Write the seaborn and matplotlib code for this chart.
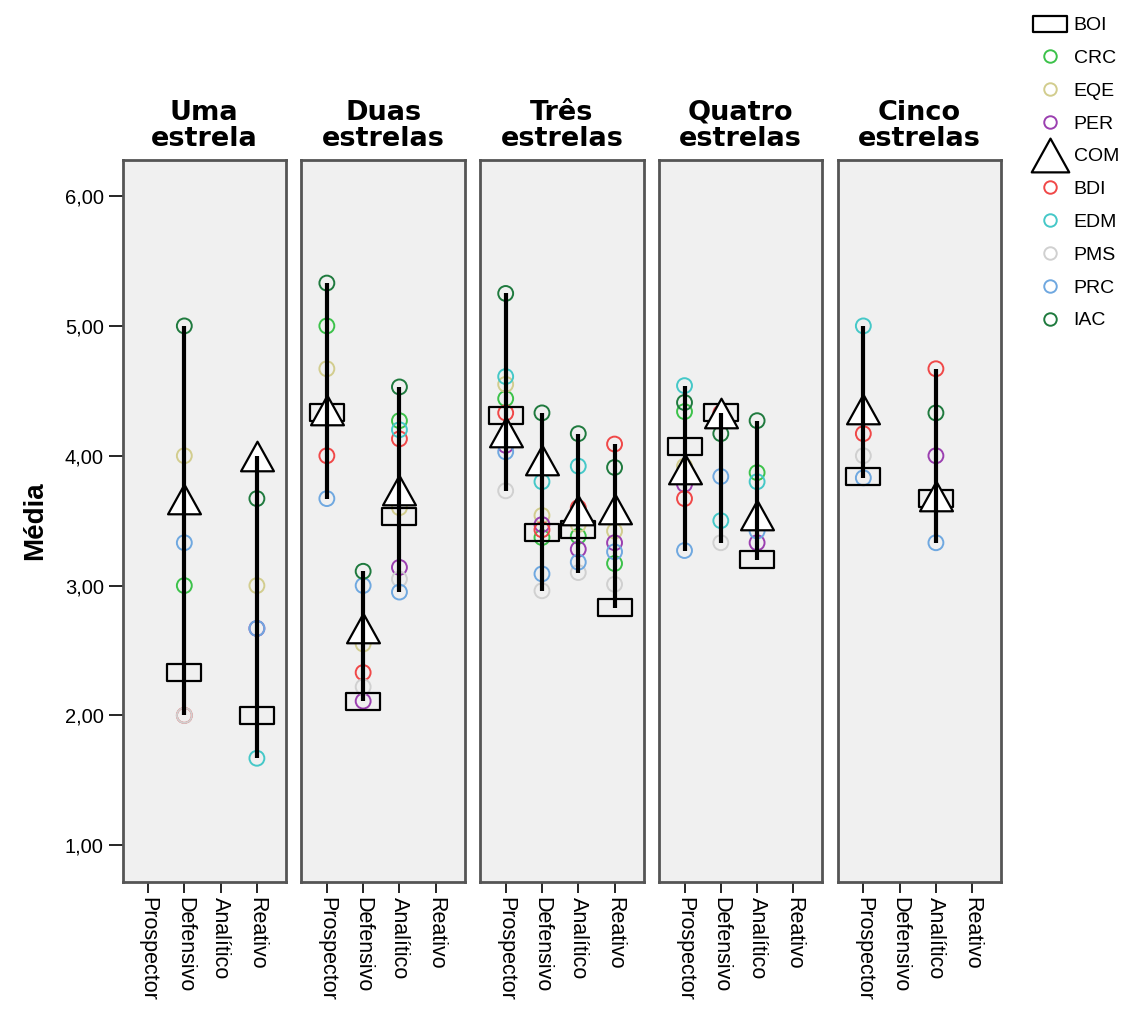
import numpy as np
import pandas as pd
import matplotlib
matplotlib.use("Agg")
import matplotlib.pyplot as plt
from matplotlib.path import Path
from matplotlib.markers import MarkerStyle
from matplotlib.lines import Line2D
import seaborn as sns

# panels and categories
panels = ["Uma\nestrela", "Duas\nestrelas", "Três\nestrelas", "Quatro\nestrelas", "Cinco\nestrelas"]
categories = ["Prospector", "Defensivo", "Analítico", "Reativo"]
y_ticks = [1, 2, 3, 4, 5, 6]
y_tick_labels = ["1,00", "2,00", "3,00", "4,00", "5,00", "6,00"]

n = np.nan
# values per series: 5 panels x 4 categories (Prospector, Defensivo, Analítico, Reativo)
boi = [n, 2.33, n, 2.00,   4.33, 2.11, 3.53, n,   4.31, 3.41, 3.43, 2.83,   4.07, 4.33, 3.20, n,   3.84, n, 3.67, n]
crc = [n, 3.00, n, n,      5.00, n, 4.27, n,      4.44, 3.37, 3.38, 3.17,   4.34, n, 3.87, n,      n, n, n, n]
eqe = [n, 4.00, n, 3.00,   4.67, 2.55, 3.60, n,   4.55, 3.54, 3.47, 3.42,   3.92, n, n, n,         n, n, n, n]
per = [n, n, n, 2.67,      n, 2.11, 3.14, n,      4.08, 3.47, 3.28, 3.33,   3.78, n, 3.33, n,      n, n, 4.00, n]
com = [n, 3.67, n, 4.00,   4.35, 2.67, 3.74, n,   4.18, 3.97, 3.58, 3.59,   3.90, 4.33, 3.54, n,   4.36, n, 3.69, n]
bdi = [n, 2.00, n, n,      4.00, 2.33, 4.13, n,   4.33, 3.43, 3.60, 4.09,   3.67, 4.33, n, n,      4.17, n, 4.67, n]
edm = [n, n, n, 1.67,      n, n, 4.20, n,         4.61, 3.80, 3.92, n,      4.54, 3.50, 3.80, n,   5.00, n, n, n]
pms = [n, 2.00, n, n,      n, 2.22, 3.05, n,      3.73, 2.96, 3.10, 3.01,   n, 3.33, n, n,         4.00, n, n, n]
prc = [n, 3.33, n, 2.67,   3.67, 3.00, 2.95, n,   4.03, 3.09, 3.18, 3.26,   3.27, 3.84, 3.42, n,   3.83, n, 3.33, n]
iac = [n, 5.00, n, 3.67,   5.33, 3.11, 4.53, n,   5.25, 4.33, 4.17, 3.91,   4.41, 4.17, 4.27, n,   4.33, n, 4.33, n]

series_names = ["BOI", "CRC", "EQE", "PER", "COM", "BDI", "EDM", "PMS", "PRC", "IAC"]
series_values = [boi, crc, eqe, per, com, bdi, edm, pms, prc, iac]
series_colors = ["black", "#3cc24a", "#d2cd8e", "#9b3fb0", "black",
                 "#f04848", "#45c8c8", "#d0d0d0", "#6fa8e0", "#1f7a3e"]

rows = []
for name, vals in zip(series_names, series_values):
    for i, v in enumerate(vals):
        rows.append({"serie": name, "panel": panels[i // 4], "cat": categories[i % 4],
                     "pos": i % 4, "valor": v})
df = pd.DataFrame(rows).dropna()

rect = MarkerStyle(Path([(-1, -0.5), (1, -0.5), (1, 0.5), (-1, 0.5), (-1, -0.5)],
                        [1, 2, 2, 2, 79]))
tri = MarkerStyle(Path([(0, 0.9), (-1, -0.9), (1, -0.9), (0, 0.9)], [1, 2, 2, 79]))

sns.set_style("white")
plt.rcParams["font.family"] = ["Liberation Sans", "DejaVu Sans"]
plt.rcParams["text.color"] = "black"
plt.rcParams["axes.labelcolor"] = "black"
plt.rcParams["xtick.color"] = "black"
plt.rcParams["ytick.color"] = "black"

fig, axes = plt.subplots(1, 5, figsize=(11.25, 10.11), dpi=100, sharey=True)
fig.subplots_adjust(left=0.109, right=0.890, bottom=0.128, top=0.842, wspace=0.095)

for ax, panel in zip(axes, panels):
    ax.set_facecolor("#f0f0f0")
    sub = df[df["panel"] == panel]
    for name, col in zip(series_names, series_colors):
        d = sub[sub["serie"] == name]
        if d.empty:
            continue
        if name == "BOI":
            sns.scatterplot(data=d, x="pos", y="valor", marker=rect, s=600, color="none",
                            facecolors="none", edgecolor="black", linewidth=1.6, ax=ax, zorder=3)
        elif name == "COM":
            sns.scatterplot(data=d, x="pos", y="valor", marker=tri, s=560, color="white",
                            edgecolor="black", linewidth=1.6, ax=ax, zorder=3)
        else:
            sns.scatterplot(data=d, x="pos", y="valor", marker="o", s=115, color=col,
                            facecolors="none", edgecolor=col, linewidth=1.4, ax=ax, zorder=2)
    # high-low line for each category
    rng = sub.groupby("pos")["valor"].agg(["min", "max"])
    ax.vlines(rng.index, rng["min"], rng["max"], color="black", linewidth=3, zorder=4)

    ax.set_title(panel, fontsize=19.5, fontweight="bold", family="DejaVu Sans",
                 linespacing=1.0, pad=10, color="black")
    ax.set_xlim(-0.7, 3.8)
    ax.set_ylim(0.72, 6.28)
    ax.set_xticks(range(4))
    ax.set_xticklabels(categories, rotation=270, fontsize=15.5)
    ax.tick_params(axis="x", direction="out", length=8, width=1.2, color="black",
                   bottom=True, pad=3)
    ax.set_xlabel("")
    ax.set_ylabel("")
    for sp in ax.spines.values():
        sp.set_color("#555555")
        sp.set_linewidth(2)

axes[0].set_yticks(y_ticks)
axes[0].set_yticklabels(y_tick_labels, fontsize=14.5)
axes[0].tick_params(axis="y", direction="out", length=10, width=1.2, color="black", left=True)
for ax in axes[1:]:
    ax.tick_params(axis="y", left=False)
axes[0].set_ylabel("Média", fontsize=20, fontweight="bold", labelpad=12)

handles = []
for name, col in zip(series_names, series_colors):
    if name == "BOI":
        h = Line2D([], [], linestyle="none", marker=rect, markersize=24,
                   markerfacecolor="none", markeredgecolor="black", markeredgewidth=1.6)
    elif name == "COM":
        h = Line2D([], [], linestyle="none", marker=tri, markersize=27,
                   markerfacecolor="none", markeredgecolor="black", markeredgewidth=1.6)
    else:
        h = Line2D([], [], linestyle="none", marker="o", markersize=9,
                   markerfacecolor="none", markeredgecolor=col, markeredgewidth=1.4)
    handles.append(h)
fig.legend(handles, series_names, loc="upper left", bbox_to_anchor=(0.906, 0.995),
           frameon=False, fontsize=14, handletextpad=0.2, labelspacing=0.78,
           borderaxespad=0.2)

fig.savefig("out.png", dpi=100)
